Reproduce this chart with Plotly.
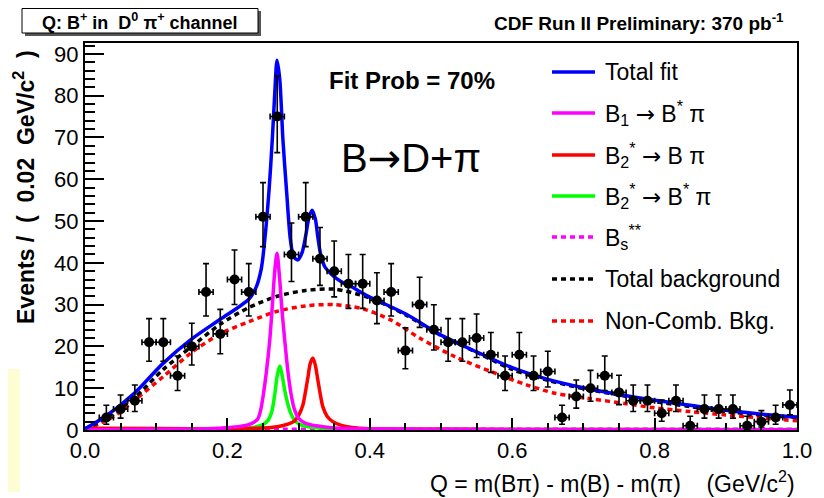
import plotly.graph_objects as go

# ---------------- data ----------------
q_data = [0.03, 0.05, 0.07, 0.09, 0.11, 0.13, 0.15, 0.17, 0.19, 0.21, 0.23, 0.25, 0.27, 0.29,
          0.31, 0.33, 0.35, 0.37, 0.39, 0.41, 0.43, 0.45, 0.47, 0.49, 0.51, 0.53, 0.55, 0.57,
          0.59, 0.61, 0.63, 0.65, 0.67, 0.69, 0.71, 0.73, 0.75, 0.77, 0.79, 0.81, 0.83, 0.85,
          0.87, 0.89, 0.91, 0.93, 0.95, 0.97, 0.99]
events = [3, 5, 7, 21, 21, 13, 20, 33, 23, 36, 33, 51, 75, 42,
          51, 41, 38, 35, 35, 31, 33, 19, 30, 24, 21, 21, 22, 18,
          13, 18, 13, 14, 3, 8, 10, 13, 9, 7, 7, 4, 7, 1,
          5, 5, 5, 1, 2, 3, 6]
err_hi = [2.92, 3.38, 3.77, 5.66, 5.66, 4.70, 5.55, 6.82, 5.86, 7.07, 6.82, 8.19, 9.70, 7.54,
          8.19, 7.47, 7.23, 6.99, 6.99, 6.64, 6.82, 5.44, 6.55, 5.97, 5.66, 5.66, 5.76, 5.32,
          4.70, 5.32, 4.70, 4.83, 2.92, 3.95, 4.27, 4.70, 4.11, 3.77, 3.77, 3.16, 3.77, 2.30,
          3.38, 3.38, 3.38, 2.30, 2.64, 2.92, 3.58]
err_lo = [1.63, 2.16, 2.58, 4.56, 4.56, 3.56, 4.45, 5.72, 4.77, 5.98, 5.72, 7.12, 8.64, 6.47,
          7.12, 6.39, 6.15, 5.89, 5.89, 5.54, 5.72, 4.34, 5.45, 4.87, 4.56, 4.56, 4.66, 4.22,
          3.56, 4.22, 3.56, 3.70, 1.63, 2.77, 3.11, 3.56, 2.94, 2.58, 2.58, 1.91, 2.58, 0.83,
          2.16, 2.16, 2.16, 0.83, 1.29, 1.63, 2.38]
BIN_HALF = 0.01

q_fit = [0.0, 0.03, 0.07, 0.11, 0.15, 0.19, 0.23, 0.24, 0.2475, 0.2525, 0.2585, 0.263, 0.2665,
         0.2697, 0.2735, 0.278, 0.283, 0.2885, 0.293, 0.299, 0.305, 0.310, 0.3145, 0.319, 0.3235,
         0.327, 0.331, 0.337, 0.344, 0.352, 0.362, 0.375, 0.39, 0.40, 0.45, 0.50, 0.55, 0.60,
         0.65, 0.70, 0.75, 0.80, 0.85, 0.90, 0.95, 1.0]
total_fit = [0.3, 3.4, 8.9, 16.0, 21.8, 26.5, 31.3, 34.0, 38.5, 45.5, 57.4, 69.4, 80.5,
             88.5, 84.0, 69.4, 57.4, 45.5, 41.5, 40.7, 42.5, 46.5, 50.8, 52.6, 50.5,
             46.2, 42.0, 39.0, 37.6, 36.4, 35.3, 34.2, 32.7, 31.8, 27.8, 22.7, 18.7, 14.9,
             12.1, 10.1, 8.5, 7.1, 5.9, 4.7, 3.8, 3.1]

q_b1 = [0.0, 0.1, 0.18, 0.21, 0.23, 0.2425, 0.247, 0.2505, 0.2545, 0.2595, 0.263, 0.2665,
        0.2697, 0.273, 0.2765, 0.2805, 0.285, 0.2895, 0.294, 0.30, 0.31, 0.325, 0.35, 0.40,
        0.5, 1.0]
b1_bstar_pi = [0.05, 0.15, 0.35, 0.7, 1.3, 2.6, 5.0, 8.5, 13.5, 21.5, 29.5, 38.0,
               42.3, 37.0, 29.0, 21.5, 14.0, 8.5, 5.0, 2.8, 1.6, 1.0, 0.5, 0.3,
               0.15, 0.05]

q_b2b = [0.0, 0.1, 0.2, 0.25, 0.27, 0.285, 0.2945, 0.301, 0.306, 0.3095, 0.313, 0.3165,
         0.3202, 0.3235, 0.327, 0.3305, 0.334, 0.34, 0.348, 0.36, 0.375, 0.40, 0.5, 1.0]
b2_b_pi = [0.4, 0.35, 0.3, 0.5, 0.8, 1.4, 2.2, 3.8, 6.0, 9.0, 12.5, 16.0,
           17.2, 15.5, 12.0, 8.5, 5.6, 3.3, 2.0, 1.1, 0.6, 0.3, 0.15, 0.05]

q_b2bs = [0.0, 0.15, 0.21, 0.235, 0.25, 0.257, 0.2625, 0.2665, 0.270, 0.2735, 0.277, 0.2805,
          0.2845, 0.2885, 0.294, 0.30, 0.31, 0.33, 0.37, 0.45, 1.0]
b2_bstar_pi = [0.05, 0.1, 0.3, 0.6, 1.3, 2.3, 4.5, 8.5, 13.0, 15.3, 13.0, 9.5,
               6.5, 4.2, 2.4, 1.5, 0.9, 0.5, 0.25, 0.15, 0.1]

q_bs = [0.0, 0.25, 0.5, 0.75, 1.0]
bs_star = [0.15, 0.2, 0.2, 0.2, 0.15]

q_bkg = [0.0, 0.03, 0.07, 0.11, 0.15, 0.19, 0.23, 0.27, 0.31, 0.35, 0.40, 0.45, 0.50, 0.55,
         0.60, 0.65, 0.70, 0.75, 0.80, 0.85, 0.90, 0.95, 1.0]
total_bkg = [0.0, 3.0, 7.8, 14.5, 20.0, 25.3, 29.3, 32.0, 33.4, 33.7, 31.6, 27.6, 22.6, 18.6,
             14.5, 11.9, 9.9, 8.4, 6.8, 5.6, 4.4, 3.6, 3.0]

q_nc = [0.0, 0.04, 0.07, 0.11, 0.15, 0.19, 0.23, 0.27, 0.31, 0.35, 0.39, 0.43, 0.47, 0.52,
        0.57, 0.62, 0.66, 0.71, 0.76, 0.80, 0.85, 0.90, 0.94, 1.0]
noncomb_bkg = [0.0, 3.2, 7.2, 12.8, 18.6, 23.0, 25.9, 28.4, 29.7, 30.0, 29.0, 26.3, 22.0, 17.5,
               14.0, 10.8, 8.8, 7.5, 6.3, 5.3, 4.4, 3.6, 3.0, 2.2]

ARROW = "<span style='font-family:DejaVu Sans'>\u2192</span>"
legend_labels = ["Total fit",
                 "B<sub>1</sub> " + ARROW + " B<sup>*</sup> \u03c0",
                 "B<sub>2</sub><sup>*</sup> " + ARROW + " B \u03c0",
                 "B<sub>2</sub><sup>*</sup> " + ARROW + " B<sup>*</sup> \u03c0",
                 "B<sub>s</sub><sup>**</sup>",
                 "Total background",
                 "Non-Comb. Bkg."]

# ---------------- figure ----------------
FONT = "Liberation Sans, Arial, Helvetica, sans-serif"
# page has an 8px body margin: figure occupies page pixels 8..824 x 8..498
W, H = 816, 490
ML, MR, MT, MB = 77, 27, 35, 68
PW, PH = W - ML - MR, H - MT - MB
AX_L, AX_B = 85, 430  # page pixel of plot-area left / bottom


def px(x):  # page pixel -> paper x
    return (x - AX_L) / PW


def py(y):  # page pixel -> paper y
    return (AX_B - y) / PH


DOT = "5px,4px"
styles = [
    dict(color="#0000ff", width=3.5, dash="solid"),
    dict(color="#ff00ff", width=3.5, dash="solid"),
    dict(color="#ff0000", width=3.5, dash="solid"),
    dict(color="#00ff00", width=3.5, dash="solid"),
    dict(color="#ff00ff", width=3.5, dash=DOT),
    dict(color="#000000", width=3.5, dash=DOT),
    dict(color="#ff0000", width=3.5, dash=DOT),
]

fig = go.Figure()
curves = [
    (q_bs, bs_star, 4),
    (q_nc, noncomb_bkg, 6),
    (q_bkg, total_bkg, 5),
    (q_b2bs, b2_bstar_pi, 3),
    (q_b2b, b2_b_pi, 2),
    (q_b1, b1_bstar_pi, 1),
    (q_fit, total_fit, 0),
]
for xs, ys, si in curves:
    fig.add_trace(go.Scatter(x=xs, y=ys, mode="lines", line=dict(shape="spline", smoothing=0.8, **styles[si]),
                             showlegend=False, hoverinfo="skip"))

fig.add_trace(go.Scatter(
    x=q_data, y=events, mode="markers",
    marker=dict(color="black", size=10),
    error_y=dict(type="data", symmetric=False, array=err_hi, arrayminus=err_lo,
                 color="black", thickness=1.6, width=3),
    error_x=dict(type="constant", value=BIN_HALF, color="black", thickness=1.6, width=3),
    showlegend=False))

shapes = []
annotations = []

# manual legend
leg_y = [72, 113, 155, 196, 237, 279, 321]
for lab, yy, st in zip(legend_labels, leg_y, styles):
    shapes.append(dict(type="line", xref="paper", yref="paper", x0=px(552), x1=px(595), y0=py(yy), y1=py(yy),
                       line=dict(color=st["color"], width=st["width"], dash=st["dash"])))
    annotations.append(dict(xref="paper", yref="paper", x=px(603), y=py(yy), xanchor="left", yanchor="middle",
                            text=lab, showarrow=False, font=dict(family=FONT, size=23, color="black")))

# title box with shadow
shapes.append(dict(type="rect", xref="paper", yref="paper", x0=px(25), x1=px(261), y0=py(36), y1=py(11),
                   fillcolor="#555555", line=dict(width=0), layer="above"))
shapes.append(dict(type="rect", xref="paper", yref="paper", x0=px(22), x1=px(258), y0=py(33), y1=py(8.5),
                   fillcolor="white", line=dict(color="black", width=1), layer="above"))
# pale yellow strip at left
shapes.append(dict(type="rect", xref="paper", yref="paper", x0=px(8), x1=px(20), y0=py(492), y1=py(369),
                   fillcolor="#fdfdd3", line=dict(width=0)))

annotations += [
    dict(xref="paper", yref="paper", x=px(140), y=py(21.5), xanchor="center", yanchor="middle",
         text="<b>Q: B<sup>+</sup> in \u00a0D<sup>0</sup> \u03c0<sup>+</sup> channel</b>",
         showarrow=False, font=dict(family=FONT, size=18, color="black")),
    dict(xref="paper", yref="paper", x=px(786), y=py(22), xanchor="right", yanchor="middle",
         text="<b>CDF Run II Preliminary: 370 pb<sup>-1</sup></b>",
         showarrow=False, font=dict(family=FONT, size=19, color="black")),
    dict(xref="paper", yref="paper", x=px(412), y=py(80), xanchor="center", yanchor="middle",
         text="<b>Fit Prob = 70%</b>", showarrow=False, font=dict(family=FONT, size=24, color="black")),
    dict(xref="paper", yref="paper", x=px(411), y=py(158), xanchor="center", yanchor="middle",
         text="B<span style='font-family:DejaVu Sans'>\u2192</span>D+\u03c0", showarrow=False,
         font=dict(family=FONT, size=40, color="black")),
    dict(xref="paper", yref="paper", x=px(24), y=py(187), xanchor="center", yanchor="middle", textangle=-90,
         text="<b>Events\u00a0/\u00a0\u00a0(\u00a0\u00a00.02\u00a0\u00a0GeV/c<sup>2</sup>\u00a0\u00a0)</b>",
         showarrow=False, font=dict(family=FONT, size=23, color="black")),
    dict(xref="paper", yref="paper", x=px(797), y=py(482), xanchor="right", yanchor="middle",
         text="Q = m(B\u03c0) - m(B) - m(\u03c0) \u00a0\u00a0 (GeV/c<sup>2</sup>)", showarrow=False,
         font=dict(family=FONT, size=23, color="black")),
]

fig.update_layout(
    width=W, height=H,
    margin=dict(l=ML, r=MR, t=MT, b=MB, pad=0),
    paper_bgcolor="white", plot_bgcolor="white",
    shapes=shapes, annotations=annotations,
    showlegend=False,
    font=dict(family=FONT, size=22, color="black"),
)
fig.update_xaxes(range=[0, 1], showgrid=False, zeroline=False, showline=True, linecolor="black", linewidth=2,
                 mirror=True, ticks="inside", ticklen=12, tickwidth=1.5, tickcolor="black", dtick=0.2, tick0=0,
                 tickformat=".1f", tickfont=dict(family=FONT, size=22),
                 minor=dict(ticks="inside", dtick=0.05, ticklen=7, tickwidth=1.5, tickcolor="black"))
fig.update_yaxes(range=[0, 92.6], showgrid=False, zeroline=False, showline=True, linecolor="black", linewidth=2,
                 mirror=True, ticks="inside", ticklen=19, tickwidth=1.5, tickcolor="black", dtick=10, tick0=0,
                 tickfont=dict(family=FONT, size=22),
                 minor=dict(ticks="inside", dtick=2, ticklen=10, tickwidth=1.5, tickcolor="black"))

fig.write_html("out.html")
